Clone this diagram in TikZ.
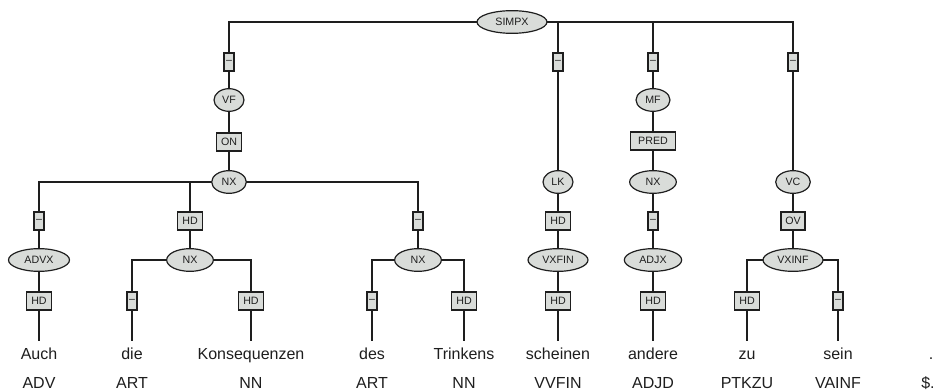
\documentclass[tikz,border=0pt]{standalone}
\usepackage{fontspec}
\setmainfont{Liberation Sans}
\usetikzlibrary{shapes.geometric,backgrounds}
\definecolor{nodefill}{RGB}{217,220,217}
\definecolor{ink}{RGB}{30,30,30}

\begin{document}
\begin{tikzpicture}[
    x=0.75pt, y=-0.75pt,
    every node/.style={text=ink},
    cat/.style={ellipse, draw=ink, fill=nodefill, line width=0.9pt, inner sep=0pt,
        minimum height=17pt, minimum width=#1, font=\fontsize{8}{9}\selectfont},
    cat/.default=26pt,
    fn/.style={rectangle, draw=ink, fill=nodefill, line width=0.9pt, inner sep=0pt,
        minimum height=13.5pt, minimum width=#1, font=\fontsize{8}{9}\selectfont},
    fn/.default=18.5pt,
    nofn/.style={fn=7.5pt},
    word/.style={anchor=base, inner xsep=0pt, inner ysep=4.5pt, text height=8.6pt,
        font=\fontsize{12}{14}\selectfont},
    tag/.style={anchor=base, inner sep=0pt, font=\fontsize{12}{14}\selectfont},
    edge/.style={draw=ink, line width=1.1pt}
]
\useasboundingbox (0,0) rectangle (936,392);

% Root
\node[cat=52.5pt] (simpx) at (512,22) {SIMPX};

% Vorfeld
\node[nofn] (l-vf) at (229,62) {--};
\node[cat=22.5pt] (vf) at (229,100) {VF};
\node[fn] (l-on) at (229,142) {ON};
\node[cat] (nx1) at (229,182) {NX};

\node[nofn] (l-advx) at (39,221) {--};
\node[cat=45.75pt] (advx) at (39,260) {ADVX};
\node[fn] (l-auch) at (39,301) {HD};

\node[fn] (l-nx2) at (190,221) {HD};
\node[cat=35pt] (nx2) at (190,260) {NX};
\node[nofn] (l-die) at (132,301) {--};
\node[fn] (l-kons) at (251,301) {HD};

\node[nofn] (l-nx3) at (418,221) {--};
\node[cat=35pt] (nx3) at (418,260) {NX};
\node[nofn] (l-des) at (372,301) {--};
\node[fn] (l-trink) at (464,301) {HD};

% Linke Klammer
\node[nofn] (l-lk) at (558,62) {--};
\node[cat=22.5pt] (lk) at (558,182) {LK};
\node[fn] (l-vxfin) at (558,221) {HD};
\node[cat=45pt] (vxfin) at (558,260) {VXFIN};
\node[fn] (l-schein) at (558,301) {HD};

% Mittelfeld
\node[nofn] (l-mf) at (653,62) {--};
\node[cat=25.5pt] (mf) at (653,100) {MF};
\node[fn=33.75pt] (l-pred) at (653,141) {PRED};
\node[cat=35pt] (nx4) at (653,182) {NX};
\node[nofn] (l-adjx) at (653,221) {--};
\node[cat=43pt] (adjx) at (653,260) {ADJX};
\node[fn] (l-andere) at (653,301) {HD};

% Verbalkomplex
\node[nofn] (l-vc) at (793,62) {--};
\node[cat] (vc) at (793,182) {VC};
\node[fn=18pt] (l-ov) at (793,221) {OV};
\node[cat=45pt] (vxinf) at (793,260) {VXINF};
\node[fn] (l-zu) at (747,301) {HD};
\node[nofn] (l-sein) at (838,301) {--};

% Words
\node[word] (w-auch) at (39,359) {Auch};
\node[word] (w-die) at (132,359) {die};
\node[word] (w-kons) at (251,359) {Konsequenzen};
\node[word] (w-des) at (372,359) {des};
\node[word] (w-trink) at (464,359) {Trinkens};
\node[word] (w-schein) at (558,359) {scheinen};
\node[word] (w-andere) at (653,359) {andere};
\node[word] (w-zu) at (747,359) {zu};
\node[word] (w-sein) at (838,359) {sein};
\node[word] (w-punct) at (931,359) {.};

% POS tags
\node[tag] (t-auch) at (39,388) {ADV};
\node[tag] (t-die) at (132,388) {ART};
\node[tag] (t-kons) at (251,388) {NN};
\node[tag] (t-des) at (372,388) {ART};
\node[tag] (t-trink) at (464,388) {NN};
\node[tag] (t-schein) at (558,388) {VVFIN};
\node[tag] (t-andere) at (653,388) {ADJD};
\node[tag] (t-zu) at (747,388) {PTKZU};
\node[tag] (t-sein) at (838,388) {VAINF};
\node[tag] (t-punct) at (928,388) {\$.};

% Connections
\begin{scope}[on background layer]
\draw[edge] (simpx.center) -| (l-vf.center) -- (vf) -- (l-on) -- (nx1);
\draw[edge] (simpx.center) -| (l-lk.center) -- (lk) -- (l-vxfin) -- (vxfin) -- (l-schein) -- (w-schein.north);
\draw[edge] (simpx.center) -| (l-mf.center) -- (mf) -- (l-pred) -- (nx4) -- (l-adjx) -- (adjx) -- (l-andere) -- (w-andere.north);
\draw[edge] (simpx.center) -| (l-vc.center) -- (vc) -- (l-ov) -- (vxinf);

\draw[edge] (nx1.center) -| (l-advx.center) -- (advx) -- (l-auch) -- (w-auch.north);
\draw[edge] (nx1.center) -| (l-nx2.center) -- (nx2);
\draw[edge] (nx1.center) -| (l-nx3.center) -- (nx3);

\draw[edge] (nx2.center) -| (l-die.center) -- (w-die.north);
\draw[edge] (nx2.center) -| (l-kons.center) -- (w-kons.north);
\draw[edge] (nx3.center) -| (l-des.center) -- (w-des.north);
\draw[edge] (nx3.center) -| (l-trink.center) -- (w-trink.north);
\draw[edge] (vxinf.center) -| (l-zu.center) -- (w-zu.north);
\draw[edge] (vxinf.center) -| (l-sein.center) -- (w-sein.north);
\end{scope}

\end{tikzpicture}
\end{document}
